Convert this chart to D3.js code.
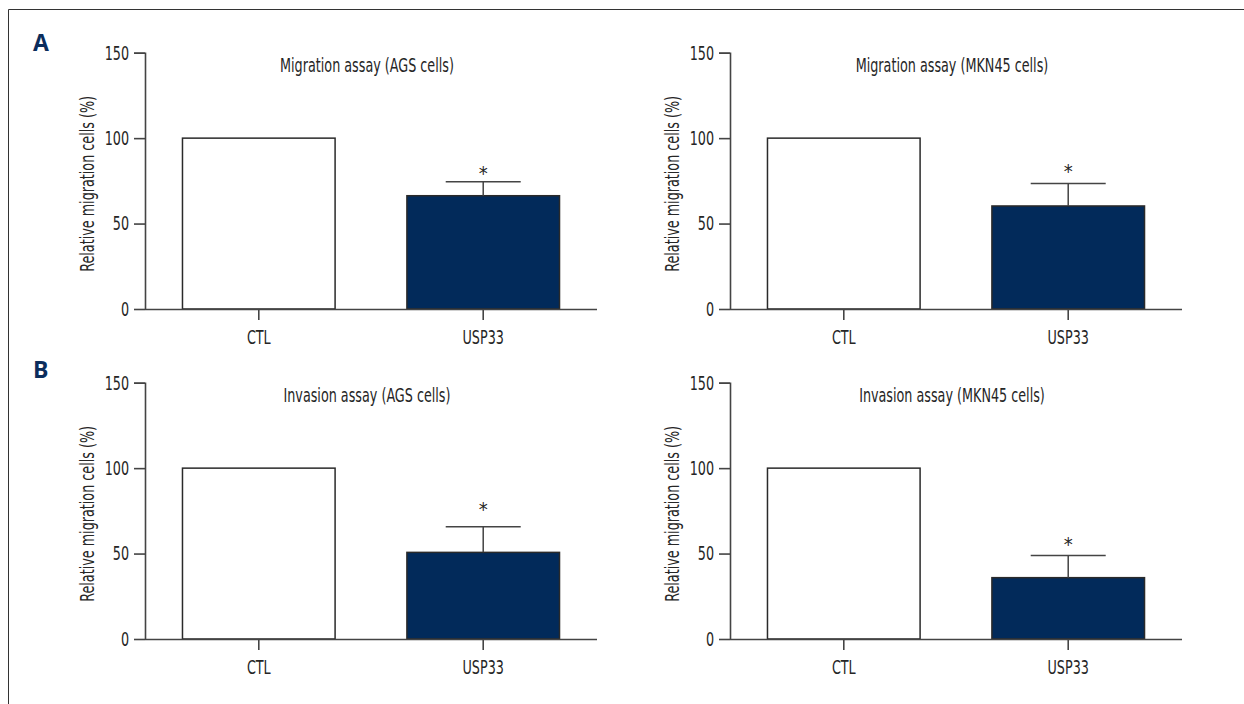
<!DOCTYPE html>
<html>
<head>
<meta charset="UTF-8">
<script src="https://d3js.org/d3.v7.min.js"></script>
<style>
    body { margin: 0; background: #fff; }
    text { font-family: "DejaVu Sans Condensed", "DejaVu Sans", sans-serif; fill: #262626; }
</style>
</head>
<body>
<script>
    // data
    var groups = ["CTL", "USP33"];
    var titles = ["Migration assay (AGS cells)", "Migration assay (MKN45 cells)",
                  "Invasion assay (AGS cells)", "Invasion assay (MKN45 cells)"];
    var means = [[100, 66.3], [100, 60.3], [100, 50.7], [100, 35.9]];
    var errors = [[0, 8.2], [0, 13.1], [0, 15.0], [0, 12.9]];
    var stars = [82, 83.3, 78.2, 58];   // height of the "*" mark, in % units
    var yTicks = [0, 50, 100, 150];
    var yLabel = "Relative migration cells (%)";
    var rowLetters = ["A", "B"];

    var W = 1244, H = 704;
    var axisW = 452, axisH = 256.3;
    var colX = [145, 730], rowZero = [309, 639];
    var FS = 20, K = 0.71;   // font size + horizontal squeeze (condensed look)

    var svg = d3.select("body").append("svg")
        .attr("width", W).attr("height", H);

    // frame (top + left edge)
    svg.append("path")
        .attr("d", "M8.5," + H + "V9.5H" + W)
        .attr("fill", "none").attr("stroke", "#333").attr("stroke-width", 1);

    // row letters
    rowLetters.forEach(function (l, i) {
        svg.append("text")
            .attr("class", "letter")
            .attr("x", 33).attr("y", [51, 378][i])
            .style("font-family", "'Open Sans', 'Liberation Sans', sans-serif")
            .style("font-weight", "bold").style("font-size", "23px")
            .style("fill", "#0b2d5c")
            .text(l);
    });

    var x = d3.scaleBand().domain(groups).range([0, axisW])
        .paddingInner(0.32).paddingOuter(0.167);
    var y = d3.scaleLinear().domain([0, 150]).range([axisH, 0]);

    titles.forEach(function (title, p) {
        var col = p % 2, row = Math.floor(p / 2);
        var g = svg.append("g")
            .attr("transform", "translate(" + colX[col] + "," + (rowZero[row] - axisH) + ")");

        var rows = groups.map(function (k, i) {
            return { name: k, v: means[p][i], e: errors[p][i] };
        });

        // bars
        g.selectAll(".bar").data(rows).enter().append("rect")
            .attr("x", function (d) { return x(d.name); })
            .attr("y", function (d) { return y(d.v); })
            .attr("width", x.bandwidth())
            .attr("height", function (d) { return y(0) - y(d.v); })
            .attr("fill", function (d, i) { return i === 0 ? "#fff" : "#022a5a"; })
            .attr("stroke", "#2a2a2a").attr("stroke-width", 1.5);

        // error bars (upper only)
        var eb = rows.filter(function (d) { return d.e > 0; });
        g.selectAll(".err").data(eb).enter().append("path")
            .attr("d", function (d) {
                var cx = x(d.name) + x.bandwidth() / 2;
                return "M" + cx + "," + y(d.v) + "V" + y(d.v + d.e) +
                    "M" + (cx - 37.5) + "," + y(d.v + d.e) + "H" + (cx + 37.5);
            })
            .attr("fill", "none").attr("stroke", "#444").attr("stroke-width", 1.5);

        g.append("text")
            .attr("class", "star")
            .attr("x", x("USP33") + x.bandwidth() / 2)
            .attr("y", y(stars[p]) + 11)
            .attr("text-anchor", "middle")
            .style("font-size", "20px")
            .text("*");

        // axes
        var ya = g.append("g")
            .call(d3.axisLeft(y).tickValues(yTicks).tickSize(11).tickPadding(5));
        var xa = g.append("g").attr("transform", "translate(0," + axisH + ")")
            .call(d3.axisBottom(x).tickSize(11).tickPadding(10).tickSizeOuter(0));
        [ya, xa].forEach(function (a) {
            a.select(".domain").attr("stroke", "#444").attr("stroke-width", 1.6);
            a.selectAll(".tick line").attr("stroke", "#444").attr("stroke-width", 1.6);
            a.selectAll("text").attr("fill", "#262626")
                .style("font-size", FS + "px")
                .style("font-family", "'DejaVu Sans Condensed', 'DejaVu Sans', sans-serif");
        });
        ya.select(".domain").attr("d", "M-11,0.5H0.5V" + axisH);
        xa.select(".domain").attr("d", "M0,0.5H" + axisW);

        // y label
        g.append("text")
            .attr("transform", "translate(-58," + (axisH / 2 + 3) + ") rotate(-90)")
            .attr("text-anchor", "middle")
            .attr("dy", "0.35em")
            .style("font-size", FS + "px")
            .text(yLabel);

        // title
        g.append("text")
            .attr("x", axisW / 2 - 4)
            .attr("y", 19)
            .attr("text-anchor", "middle")
            .style("font-size", FS + "px")
            .text(title);
    });

    // squeeze text horizontally to mimic the condensed face
    svg.selectAll("text:not(.letter):not(.star)").each(function () {
        var t = d3.select(this);
        var x0 = +t.attr("x") || 0;
        var tr = t.attr("transform") || "";
        t.attr("x", x0 / K).attr("transform", tr + " scale(" + K + ",1)");
    });
</script>
</body>
</html>
